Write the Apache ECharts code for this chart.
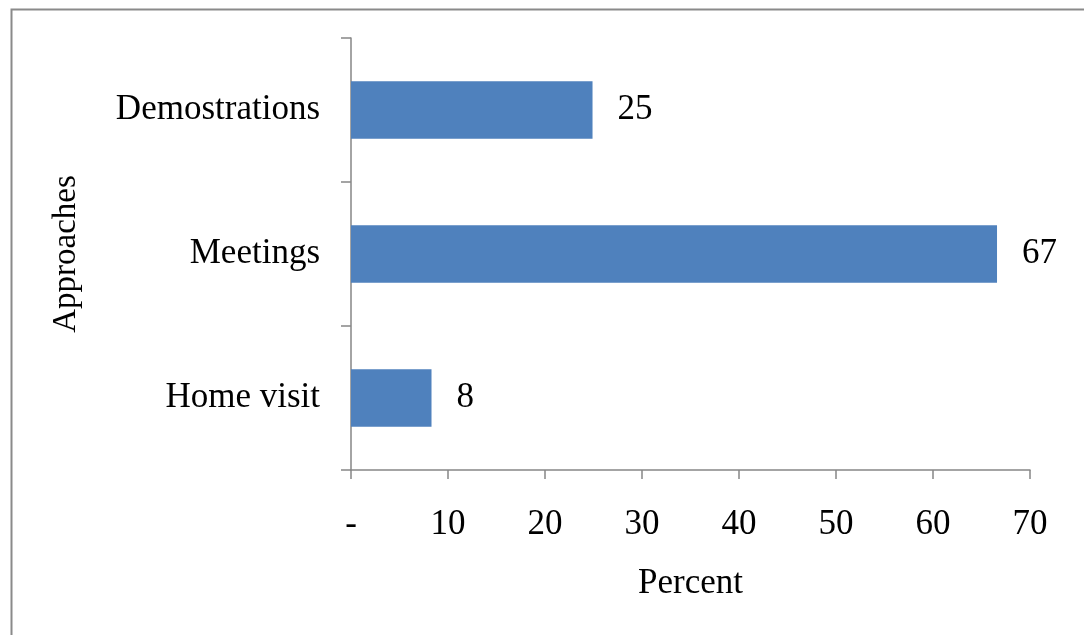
<!DOCTYPE html>
<html><head><meta charset="utf-8">
<script src="https://cdn.jsdelivr.net/npm/echarts@6/dist/echarts.min.js"></script>
<style>html,body{margin:0;padding:0;background:#fff}#c{width:1084px;height:635px}</style>
</head><body><div id="c"></div>
<script>
const categories = ["Home visit", "Meetings", "Demostrations"];
const values = [8.3, 66.6, 24.9];
const xTicks = [0, 10, 20, 30, 40, 50, 60, 70];
const xTickLabels = ["-", "10", "20", "30", "40", "50", "60", "70"];

const font = "'Liberation Serif', 'Times New Roman', serif";
const axisColor = "#868686";
const chart = echarts.init(document.getElementById('c'));
chart.setOption({
  backgroundColor: '#fff',
  animation: false,
  graphic: [{
    type: 'rect', left: 9, top: 7,
    shape: { width: 1200, height: 800 },
    style: { fill: 'none', stroke: '#8a8a8a', lineWidth: 2 }
  }],
  grid: { left: 351, right: 54, top: 38, bottom: 165 },
  xAxis: {
    type: 'value', min: xTicks[0], max: xTicks[xTicks.length - 1], interval: 10,
    name: 'Percent', nameLocation: 'middle', nameGap: 96,
    nameTextStyle: { fontFamily: font, fontSize: 35, color: '#000' },
    axisLine: { show: true, lineStyle: { color: axisColor, width: 1.5 } },
    axisTick: { show: true, length: 9, lineStyle: { color: axisColor, width: 1.5 } },
    splitLine: { show: false },
    axisLabel: {
      fontFamily: font, fontSize: 35, color: '#000', margin: 37,
      formatter: function (v) { const i = xTicks.indexOf(v); return i >= 0 ? xTickLabels[i] : ''; }
    }
  },
  yAxis: {
    type: 'category', data: categories,
    name: 'Approaches', nameLocation: 'middle', nameGap: 268, nameRotate: 90,
    nameTextStyle: { fontFamily: font, fontSize: 33, color: '#000' },
    axisLine: { show: true, lineStyle: { color: axisColor, width: 1.5 } },
    axisTick: { show: true, length: 10, lineStyle: { color: axisColor, width: 1.5 } },
    axisLabel: { fontFamily: font, fontSize: 35, color: '#000', margin: 31, padding: [6, 0, 0, 0] }
  },
  series: [{
    type: 'bar', data: values, barWidth: '40%',
    itemStyle: { color: '#4F81BD' },
    label: {
      show: true, position: 'right', distance: 25, padding: [6, 0, 0, 0],
      fontFamily: font, fontSize: 35, color: '#000',
      formatter: function (p) { return Math.round(p.value); }
    }
  }]
});
</script></body></html>
